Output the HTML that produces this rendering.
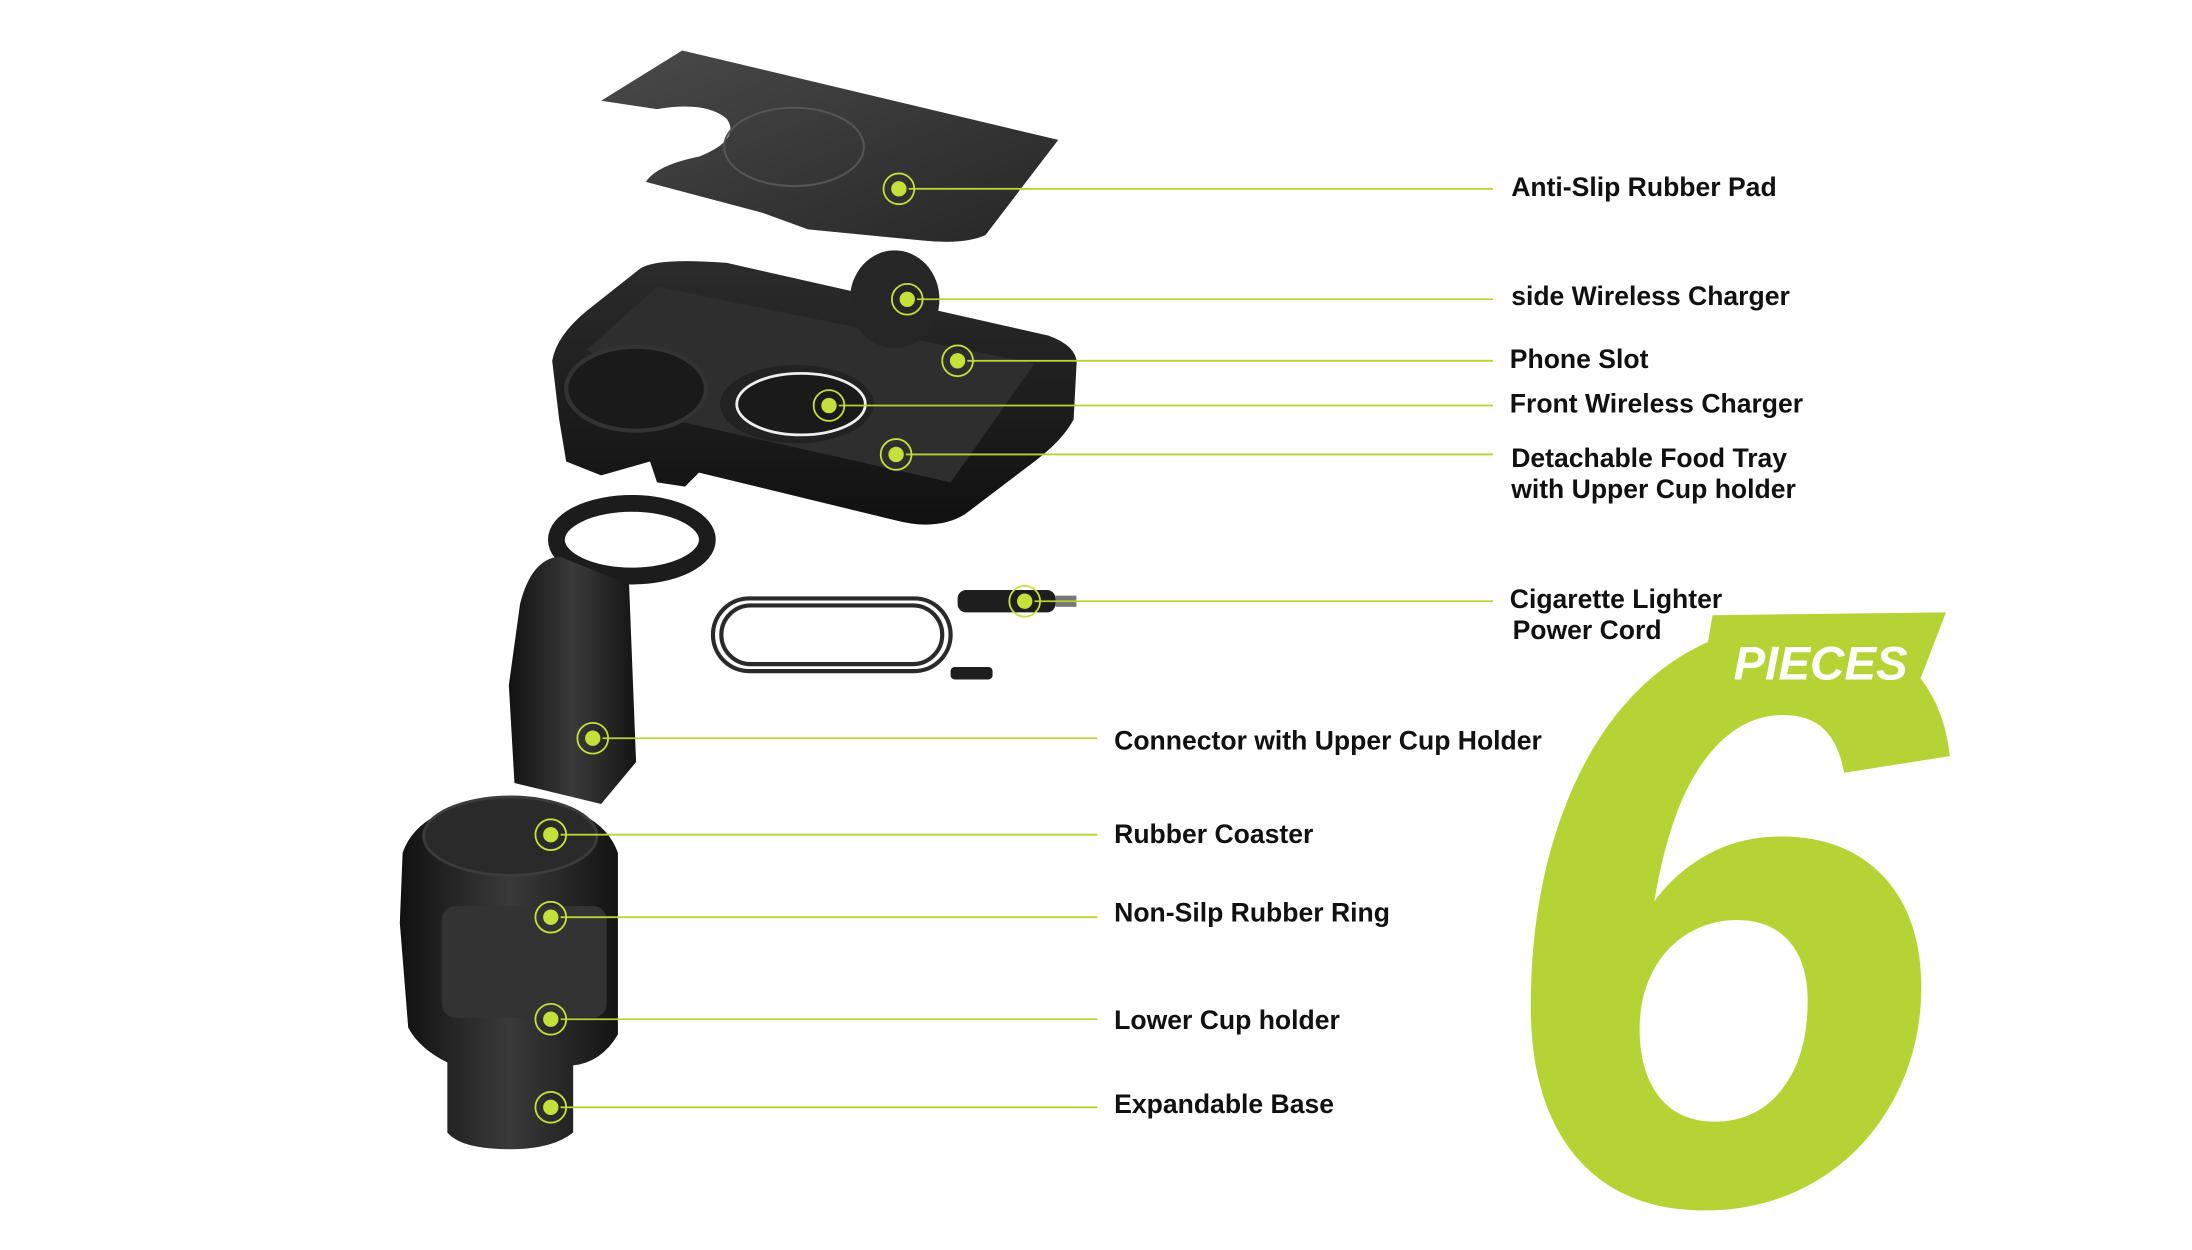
<!DOCTYPE html>
<html><head><meta charset="utf-8"><style>
html,body{margin:0;padding:0;background:#fff;width:2192px;height:1250px;overflow:hidden;}
svg{display:block;}
.l{font-family:"Liberation Sans",sans-serif;font-weight:bold;font-size:19px;fill:#111;}
</style></head><body>
<svg width="2192" height="1250" viewBox="0 0 1568 894" xmlns="http://www.w3.org/2000/svg">
<defs>
<linearGradient id="g1" x1="0" y1="0" x2="1" y2="1"><stop offset="0" stop-color="#4a4a4a"/><stop offset="1" stop-color="#262626"/></linearGradient>
<linearGradient id="g2" x1="0" y1="0" x2="0" y2="1"><stop offset="0" stop-color="#2b2b2b"/><stop offset="1" stop-color="#111"/></linearGradient>
<linearGradient id="g3" x1="0" y1="0" x2="1" y2="0"><stop offset="0" stop-color="#111"/><stop offset=".5" stop-color="#3a3a3a"/><stop offset="1" stop-color="#141414"/></linearGradient>
</defs>

<!-- big 6 -->
<text x="1068" y="860" font-family="Liberation Sans,sans-serif" font-weight="bold" font-style="italic" font-size="600" fill="#b5d334" transform="translate(1068 860) scale(0.97 0.985) translate(-1068 -860)">6</text>
<polygon points="1225,440 1392,438 1362,516 1215,500" fill="#b5d334"/>
<text x="1240" y="486" font-family="Liberation Sans,sans-serif" font-weight="bold" font-style="italic" font-size="34" fill="#fff">PIECES</text>

<!-- rubber pad -->
<path d="M430,72 L488,36 L757,100 L705,168 Q690,175 660,172 L578,164 L545,152 L462,130 Q470,118 500,112 Q530,100 520,85 Q505,72 470,78 Z" fill="url(#g1)"/>
<ellipse cx="568" cy="105" rx="50" ry="28" fill="none" stroke="#555" stroke-width="1.5"/>

<!-- tray -->
<path d="M395,258 Q398,240 420,222 L458,192 Q470,184 520,188 L750,240 Q772,248 770,262 L768,300 Q760,315 740,330 L690,368 Q670,380 640,372 L500,338 L490,348 L470,345 L465,330 L430,340 L405,330 L400,300 Z" fill="url(#g2)"/>
<path d="M420,250 L470,205 L740,260 L680,345 L480,300 Z" fill="#2e2e2e"/>
<ellipse cx="455" cy="278" rx="50" ry="30" fill="#1a1a1a" stroke="#333" stroke-width="3"/>
<ellipse cx="570" cy="289" rx="55" ry="28" fill="#222"/>
<ellipse cx="573" cy="289" rx="46" ry="22" fill="#1a1a1a" stroke="#eee" stroke-width="2"/>
<ellipse cx="640" cy="214" rx="32" ry="35" fill="#262626"/>

<!-- connector -->
<ellipse cx="452" cy="386" rx="54" ry="26" fill="none" stroke="#1c1c1c" stroke-width="12"/>
<path d="M372,432 Q380,400 400,398 L450,418 L455,545 L430,575 L368,560 L364,490 Z" fill="url(#g3)"/>

<!-- power cord -->
<rect x="510" y="428" width="170" height="52" rx="26" fill="none" stroke="#2a2a2a" stroke-width="3"/>
<rect x="516" y="433" width="158" height="42" rx="21" fill="none" stroke="#2a2a2a" stroke-width="3"/>
<rect x="685" y="422" width="70" height="16" rx="6" fill="#1e1e1e"/>
<rect x="755" y="426" width="15" height="8" fill="#777"/>
<rect x="680" y="477" width="30" height="9" rx="3" fill="#1e1e1e"/>

<!-- lower cup holder -->
<path d="M288,610 Q300,575 365,570 Q430,575 442,610 L442,740 Q430,760 410,762 L410,810 Q395,822 365,822 Q330,822 320,810 L320,760 Q300,750 292,735 L286,660 Z" fill="url(#g3)"/>
<ellipse cx="365" cy="598" rx="62" ry="28" fill="#2a2a2a" stroke="#3c3c3c" stroke-width="2"/>
<rect x="316" y="648" width="118" height="80" rx="10" fill="#333"/>

<!-- connectors -->
<g stroke="#b5d334" stroke-width="1.3" fill="none">
<line x1="650" y1="135" x2="1068" y2="135"/>
<line x1="656" y1="214" x2="1068" y2="214"/>
<line x1="692" y1="258" x2="1068" y2="258"/>
<line x1="600" y1="290" x2="1068" y2="290"/>
<line x1="648" y1="325" x2="1068" y2="325"/>
<line x1="740" y1="430" x2="1068" y2="430"/>
<line x1="431" y1="528" x2="785" y2="528"/>
<line x1="401" y1="597" x2="785" y2="597"/>
<line x1="401" y1="656" x2="785" y2="656"/>
<line x1="401" y1="729" x2="785" y2="729"/>
<line x1="401" y1="792" x2="785" y2="792"/>
</g>
<g fill="#c4e03a" stroke="#c4e03a">
<g><circle cx="643" cy="135" r="5"/><circle cx="643" cy="135" r="11" fill="none" stroke-width="1.3"/></g>
<g><circle cx="649" cy="214" r="5"/><circle cx="649" cy="214" r="11" fill="none" stroke-width="1.3"/></g>
<g><circle cx="685" cy="258" r="5"/><circle cx="685" cy="258" r="11" fill="none" stroke-width="1.3"/></g>
<g><circle cx="593" cy="290" r="5"/><circle cx="593" cy="290" r="11" fill="none" stroke-width="1.3"/></g>
<g><circle cx="641" cy="325" r="5"/><circle cx="641" cy="325" r="11" fill="none" stroke-width="1.3"/></g>
<g><circle cx="733" cy="430" r="5"/><circle cx="733" cy="430" r="11" fill="none" stroke-width="1.3"/></g>
<g><circle cx="424" cy="528" r="5"/><circle cx="424" cy="528" r="11" fill="none" stroke-width="1.3"/></g>
<g><circle cx="394" cy="597" r="5"/><circle cx="394" cy="597" r="11" fill="none" stroke-width="1.3"/></g>
<g><circle cx="394" cy="656" r="5"/><circle cx="394" cy="656" r="11" fill="none" stroke-width="1.3"/></g>
<g><circle cx="394" cy="729" r="5"/><circle cx="394" cy="729" r="11" fill="none" stroke-width="1.3"/></g>
<g><circle cx="394" cy="792" r="5"/><circle cx="394" cy="792" r="11" fill="none" stroke-width="1.3"/></g>
</g>

<g class="l">
<text x="1081" y="140">Anti-Slip Rubber Pad</text>
<text x="1081" y="218">side Wireless Charger</text>
<text x="1080" y="263">Phone Slot</text>
<text x="1080" y="295">Front Wireless Charger</text>
<text x="1081" y="334">Detachable Food Tray</text>
<text x="1081" y="356">with Upper Cup holder</text>
<text x="1080" y="435">Cigarette Lighter</text>
<text x="1082" y="457">Power Cord</text>
<text x="797" y="536">Connector with Upper Cup Holder</text>
<text x="797" y="603">Rubber Coaster</text>
<text x="797" y="659">Non-Silp Rubber Ring</text>
<text x="797" y="736">Lower Cup holder</text>
<text x="797" y="796">Expandable Base</text>
</g>
</svg>
</body></html>
